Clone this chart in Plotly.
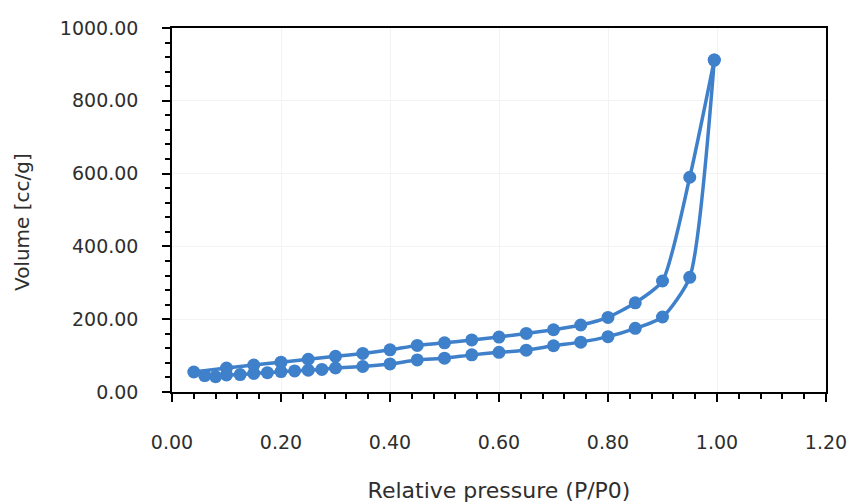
import plotly.graph_objects as go

# Adsorption branch (lower)
ads_p = [0.06, 0.08, 0.10, 0.125, 0.15, 0.175, 0.20, 0.225, 0.25, 0.275, 0.30,
         0.35, 0.40, 0.45, 0.50, 0.55, 0.60, 0.65, 0.70, 0.75, 0.80, 0.85,
         0.90, 0.95, 0.995]
ads_v = [45, 42, 47, 48, 51, 53, 56, 58, 60, 62, 66,
         70, 77, 88, 93, 102, 109, 115, 127, 137, 152, 175,
         206, 315, 912]

# Desorption branch (upper)
des_p = [0.995, 0.95, 0.90, 0.85, 0.80, 0.75, 0.70, 0.65, 0.60, 0.55, 0.50,
         0.45, 0.40, 0.35, 0.30, 0.25, 0.20, 0.15, 0.10, 0.04]
des_v = [912, 590, 305, 245, 205, 184, 171, 161, 151, 143, 135,
         128, 116, 106, 98, 90, 82, 74, 66, 55]

x_ticks = [0.0, 0.2, 0.4, 0.6, 0.8, 1.0, 1.2]
y_ticks = [0, 200, 400, 600, 800, 1000]

color = "#3f80cb"
font = "DejaVu Sans"
txt_color = "#2e2e2e"

fig = go.Figure()
for px, vy, name in [(ads_p, ads_v, "Adsorption"), (des_p, des_v, "Desorption")]:
    fig.add_trace(go.Scatter(
        x=px, y=vy, name=name, mode="lines+markers",
        line=dict(color=color, width=3.5, shape="spline", smoothing=0.6),
        marker=dict(color=color, size=13),
        showlegend=False,
    ))

axis_common = dict(
    showline=True, linecolor="black", linewidth=1.5, mirror=True,
    ticks="outside", ticklen=8, tickwidth=1.5, tickcolor="black",
    showgrid=True, gridcolor="#f3f3f3", gridwidth=1,
    zeroline=False, automargin=False,
    tickfont=dict(family=font, size=19, color=txt_color),
)

fig.update_xaxes(
    range=[0, 1.2], tickvals=x_ticks,
    ticktext=[f"{v:.2f}" for v in x_ticks],
    ticklabelstandoff=24,
    minor=dict(dtick=0.04, ticks="outside", ticklen=5, tickwidth=1.5, tickcolor="black", showgrid=False),
    title=dict(text="Relative pressure (P/P0)", font=dict(family=font, size=22, color=txt_color), standoff=34),
    **axis_common,
)
fig.update_yaxes(
    range=[0, 1000], tickvals=y_ticks,
    ticktext=[f"{v:.2f}" for v in y_ticks],
    ticklabelstandoff=20,
    minor=dict(dtick=40, ticks="outside", ticklen=5, tickwidth=1.5, tickcolor="black", showgrid=False),
    **axis_common,
)

fig.add_annotation(
    text="Volume [cc/g]", textangle=-90, showarrow=False,
    xref="paper", yref="paper", x=(22 - 172) / 654, y=(392 - 222) / 364,
    xanchor="center", yanchor="middle",
    font=dict(family=font, size=20, color=txt_color),
)

fig.update_layout(
    width=853, height=503,
    margin=dict(l=172, r=27, t=28, b=111),
    paper_bgcolor="white", plot_bgcolor="white",
)

fig.write_html("out.html")
